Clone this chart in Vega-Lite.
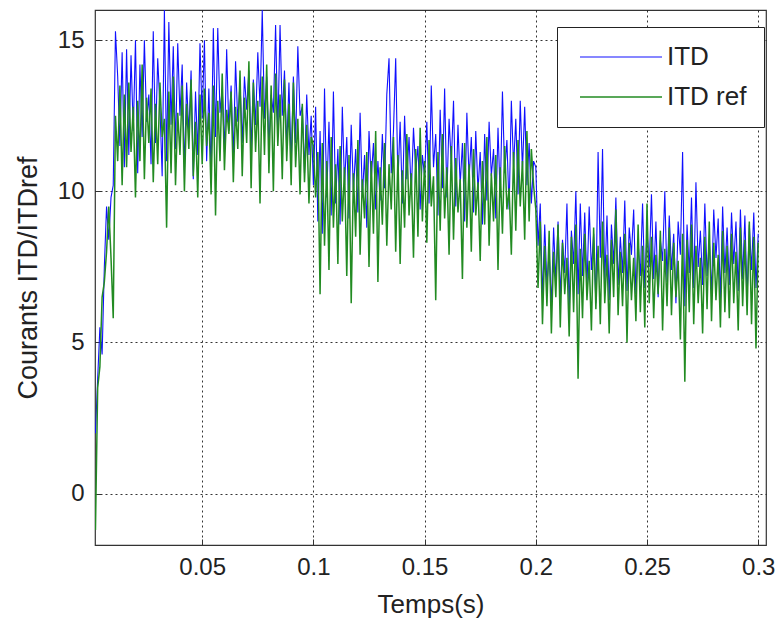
{
"$schema":"https://vega.github.io/schema/vega-lite/v6.json",
"autosize":"none",
"width":671,"height":535,
"padding":{"left":95,"top":10,"right":12,"bottom":85},
"background":"white",
"config":{"font":"Liberation Sans","view":{"stroke":"#333","strokeWidth":1.2},
"axis":{"grid":true,"gridColor":"#111","gridDash":[2,3],"gridOpacity":0.85,"domain":false,"tickColor":"#333","tickSize":-6,"labelFontSize":24,"labelColor":"#222","titleFontSize":26,"titleFontWeight":"normal","titleColor":"#222"}},
"data":{"values":[
{"t":0.002,"ITD":2.0,"ITD ref":-1.2},{"t":0.003,"ITD":3.8,"ITD ref":3.5},{"t":0.004,"ITD":5.5,"ITD ref":4.2},{"t":0.005,"ITD":4.6,"ITD ref":6.5},{"t":0.006,"ITD":7.5,"ITD ref":7.0},{"t":0.007,"ITD":9.5,"ITD ref":8.0},{"t":0.008,"ITD":8.4,"ITD ref":9.5},{"t":0.009,"ITD":9.8,"ITD ref":7.8},{"t":0.010,"ITD":10.2,"ITD ref":5.8},
{"t":0.011,"ITD":15.3,"ITD ref":12.5},{"t":0.012,"ITD":13.8,"ITD ref":11.0},{"t":0.013,"ITD":11.5,"ITD ref":13.5},{"t":0.014,"ITD":14.6,"ITD ref":10.2},{"t":0.015,"ITD":10.8,"ITD ref":13.2},{"t":0.016,"ITD":14.7,"ITD ref":10.8},{"t":0.017,"ITD":11.2,"ITD ref":13.6},{"t":0.018,"ITD":14.5,"ITD ref":11.3},{"t":0.019,"ITD":12.0,"ITD ref":12.8},{"t":0.020,"ITD":15.0,"ITD ref":9.8},
{"t":0.021,"ITD":10.6,"ITD ref":13.0},{"t":0.022,"ITD":14.2,"ITD ref":11.0},{"t":0.023,"ITD":11.8,"ITD ref":14.2},{"t":0.024,"ITD":15.0,"ITD ref":10.4},{"t":0.025,"ITD":12.3,"ITD ref":13.1},{"t":0.026,"ITD":13.2,"ITD ref":11.6},{"t":0.027,"ITD":10.9,"ITD ref":13.4},{"t":0.028,"ITD":15.3,"ITD ref":10.3},{"t":0.029,"ITD":11.6,"ITD ref":12.9},{"t":0.030,"ITD":14.4,"ITD ref":10.9},
{"t":0.031,"ITD":12.8,"ITD ref":13.6},{"t":0.032,"ITD":10.5,"ITD ref":11.8},{"t":0.033,"ITD":16.0,"ITD ref":12.4},{"t":0.034,"ITD":11.0,"ITD ref":8.8},{"t":0.035,"ITD":15.6,"ITD ref":13.3},{"t":0.036,"ITD":12.2,"ITD ref":10.6},{"t":0.037,"ITD":14.8,"ITD ref":13.8},{"t":0.038,"ITD":11.4,"ITD ref":10.2},{"t":0.039,"ITD":14.9,"ITD ref":12.6},{"t":0.040,"ITD":12.5,"ITD ref":11.2},
{"t":0.041,"ITD":14.2,"ITD ref":13.5},{"t":0.042,"ITD":10.7,"ITD ref":10.0},{"t":0.043,"ITD":13.6,"ITD ref":12.9},{"t":0.044,"ITD":11.9,"ITD ref":11.4},{"t":0.045,"ITD":14.0,"ITD ref":13.7},{"t":0.046,"ITD":10.4,"ITD ref":10.5},{"t":0.047,"ITD":13.3,"ITD ref":12.3},{"t":0.048,"ITD":11.2,"ITD ref":9.8},{"t":0.049,"ITD":14.9,"ITD ref":13.2},{"t":0.050,"ITD":12.4,"ITD ref":10.9},
{"t":0.051,"ITD":15.0,"ITD ref":13.4},{"t":0.052,"ITD":11.0,"ITD ref":11.5},{"t":0.053,"ITD":13.4,"ITD ref":12.6},{"t":0.054,"ITD":10.6,"ITD ref":9.9},{"t":0.055,"ITD":15.4,"ITD ref":13.5},{"t":0.056,"ITD":11.8,"ITD ref":9.2},{"t":0.057,"ITD":15.4,"ITD ref":13.0},{"t":0.058,"ITD":12.6,"ITD ref":11.0},{"t":0.059,"ITD":13.4,"ITD ref":13.9},{"t":0.060,"ITD":11.3,"ITD ref":10.7},
{"t":0.061,"ITD":14.7,"ITD ref":12.7},{"t":0.062,"ITD":12.0,"ITD ref":11.9},{"t":0.063,"ITD":13.5,"ITD ref":13.3},{"t":0.064,"ITD":11.1,"ITD ref":10.3},{"t":0.065,"ITD":14.3,"ITD ref":12.8},{"t":0.066,"ITD":12.3,"ITD ref":11.4},{"t":0.067,"ITD":13.6,"ITD ref":14.0},{"t":0.068,"ITD":11.6,"ITD ref":10.5},{"t":0.069,"ITD":13.8,"ITD ref":13.1},{"t":0.070,"ITD":12.7,"ITD ref":11.6},
{"t":0.071,"ITD":14.0,"ITD ref":14.3},{"t":0.072,"ITD":11.4,"ITD ref":10.1},{"t":0.073,"ITD":13.7,"ITD ref":13.6},{"t":0.074,"ITD":12.2,"ITD ref":11.3},{"t":0.075,"ITD":14.6,"ITD ref":13.0},{"t":0.076,"ITD":12.8,"ITD ref":9.6},{"t":0.077,"ITD":16.0,"ITD ref":13.8},{"t":0.078,"ITD":12.4,"ITD ref":11.2},{"t":0.079,"ITD":13.8,"ITD ref":14.2},{"t":0.080,"ITD":11.5,"ITD ref":10.6},
{"t":0.081,"ITD":13.2,"ITD ref":13.5},{"t":0.082,"ITD":12.6,"ITD ref":10.0},{"t":0.083,"ITD":15.5,"ITD ref":13.9},{"t":0.084,"ITD":11.9,"ITD ref":11.5},{"t":0.085,"ITD":15.5,"ITD ref":13.2},{"t":0.086,"ITD":12.5,"ITD ref":10.4},{"t":0.087,"ITD":14.0,"ITD ref":13.7},{"t":0.088,"ITD":11.4,"ITD ref":11.0},{"t":0.089,"ITD":13.6,"ITD ref":12.9},{"t":0.090,"ITD":10.9,"ITD ref":10.2},
{"t":0.091,"ITD":13.8,"ITD ref":13.6},{"t":0.092,"ITD":11.6,"ITD ref":10.8},{"t":0.093,"ITD":14.8,"ITD ref":12.4},{"t":0.094,"ITD":12.5,"ITD ref":9.9},{"t":0.095,"ITD":12.8,"ITD ref":12.9},{"t":0.096,"ITD":10.6,"ITD ref":10.3},{"t":0.097,"ITD":13.2,"ITD ref":12.2},{"t":0.098,"ITD":11.2,"ITD ref":9.6},{"t":0.099,"ITD":12.5,"ITD ref":11.8},
{"t":0.100,"ITD":10.2,"ITD ref":11.5},{"t":0.101,"ITD":12.8,"ITD ref":9.8},{"t":0.102,"ITD":9.0,"ITD ref":11.3},{"t":0.103,"ITD":12.0,"ITD ref":6.6},{"t":0.104,"ITD":8.6,"ITD ref":11.6},{"t":0.105,"ITD":13.4,"ITD ref":8.2},{"t":0.106,"ITD":9.8,"ITD ref":11.0},{"t":0.107,"ITD":12.3,"ITD ref":7.4},{"t":0.108,"ITD":9.2,"ITD ref":11.8},{"t":0.109,"ITD":13.3,"ITD ref":8.8},
{"t":0.110,"ITD":9.6,"ITD ref":10.9},{"t":0.111,"ITD":11.4,"ITD ref":7.6},{"t":0.112,"ITD":8.9,"ITD ref":11.5},{"t":0.113,"ITD":12.8,"ITD ref":9.0},{"t":0.114,"ITD":10.2,"ITD ref":10.8},{"t":0.115,"ITD":11.8,"ITD ref":7.2},{"t":0.116,"ITD":9.1,"ITD ref":11.2},{"t":0.117,"ITD":12.2,"ITD ref":6.3},{"t":0.118,"ITD":10.0,"ITD ref":10.6},{"t":0.119,"ITD":11.4,"ITD ref":8.5},
{"t":0.120,"ITD":9.3,"ITD ref":11.7},{"t":0.121,"ITD":12.6,"ITD ref":7.9},{"t":0.122,"ITD":9.8,"ITD ref":10.4},{"t":0.123,"ITD":11.2,"ITD ref":9.1},{"t":0.124,"ITD":8.8,"ITD ref":11.3},{"t":0.125,"ITD":12.0,"ITD ref":7.5},{"t":0.126,"ITD":10.4,"ITD ref":11.0},{"t":0.127,"ITD":11.6,"ITD ref":8.6},{"t":0.128,"ITD":9.4,"ITD ref":12.0},{"t":0.129,"ITD":11.0,"ITD ref":7.0},
{"t":0.130,"ITD":9.7,"ITD ref":10.8},{"t":0.131,"ITD":11.9,"ITD ref":8.9},{"t":0.132,"ITD":10.1,"ITD ref":11.6},{"t":0.133,"ITD":13.2,"ITD ref":8.2},{"t":0.134,"ITD":14.4,"ITD ref":10.9},{"t":0.135,"ITD":10.6,"ITD ref":9.4},{"t":0.136,"ITD":12.0,"ITD ref":11.8},{"t":0.137,"ITD":14.4,"ITD ref":8.0},{"t":0.138,"ITD":10.3,"ITD ref":11.2},{"t":0.139,"ITD":12.3,"ITD ref":7.6},
{"t":0.140,"ITD":9.6,"ITD ref":10.7},{"t":0.141,"ITD":12.5,"ITD ref":8.8},{"t":0.142,"ITD":10.4,"ITD ref":11.9},{"t":0.143,"ITD":11.8,"ITD ref":9.2},{"t":0.144,"ITD":9.9,"ITD ref":10.6},{"t":0.145,"ITD":12.1,"ITD ref":7.8},{"t":0.146,"ITD":10.7,"ITD ref":11.4},{"t":0.147,"ITD":11.5,"ITD ref":8.5},{"t":0.148,"ITD":9.4,"ITD ref":12.1},{"t":0.149,"ITD":11.2,"ITD ref":9.0},
{"t":0.150,"ITD":10.5,"ITD ref":11.0},{"t":0.151,"ITD":12.3,"ITD ref":8.3},{"t":0.152,"ITD":9.6,"ITD ref":11.7},{"t":0.153,"ITD":13.5,"ITD ref":9.5},{"t":0.154,"ITD":10.8,"ITD ref":10.5},{"t":0.155,"ITD":11.9,"ITD ref":6.4},{"t":0.156,"ITD":9.2,"ITD ref":11.3},{"t":0.157,"ITD":12.7,"ITD ref":8.7},{"t":0.158,"ITD":10.1,"ITD ref":11.9},{"t":0.159,"ITD":13.4,"ITD ref":9.1},
{"t":0.160,"ITD":9.8,"ITD ref":10.8},{"t":0.161,"ITD":12.4,"ITD ref":7.9},{"t":0.162,"ITD":10.9,"ITD ref":11.5},{"t":0.163,"ITD":13.0,"ITD ref":8.4},{"t":0.164,"ITD":9.5,"ITD ref":11.1},{"t":0.165,"ITD":12.2,"ITD ref":9.3},{"t":0.166,"ITD":10.2,"ITD ref":10.4},{"t":0.167,"ITD":11.6,"ITD ref":7.1},{"t":0.168,"ITD":9.0,"ITD ref":11.6},{"t":0.169,"ITD":12.6,"ITD ref":8.8},
{"t":0.170,"ITD":10.4,"ITD ref":10.9},{"t":0.171,"ITD":11.8,"ITD ref":8.0},{"t":0.172,"ITD":9.3,"ITD ref":11.4},{"t":0.173,"ITD":12.0,"ITD ref":9.2},{"t":0.174,"ITD":10.0,"ITD ref":10.3},{"t":0.175,"ITD":11.3,"ITD ref":7.7},{"t":0.176,"ITD":8.9,"ITD ref":11.0},{"t":0.177,"ITD":11.9,"ITD ref":8.9},{"t":0.178,"ITD":9.7,"ITD ref":11.8},{"t":0.179,"ITD":12.3,"ITD ref":8.2},
{"t":0.180,"ITD":10.5,"ITD ref":10.6},{"t":0.181,"ITD":11.4,"ITD ref":9.0},{"t":0.182,"ITD":9.1,"ITD ref":11.2},{"t":0.183,"ITD":12.1,"ITD ref":7.4},{"t":0.184,"ITD":9.8,"ITD ref":10.8},{"t":0.185,"ITD":13.3,"ITD ref":8.6},{"t":0.186,"ITD":10.6,"ITD ref":11.5},{"t":0.187,"ITD":11.7,"ITD ref":9.4},{"t":0.188,"ITD":9.4,"ITD ref":10.1},{"t":0.189,"ITD":13.0,"ITD ref":7.9},
{"t":0.190,"ITD":10.8,"ITD ref":11.3},{"t":0.191,"ITD":12.4,"ITD ref":8.7},{"t":0.192,"ITD":9.9,"ITD ref":11.7},{"t":0.193,"ITD":13.0,"ITD ref":9.5},{"t":0.194,"ITD":10.7,"ITD ref":11.0},{"t":0.195,"ITD":12.8,"ITD ref":8.4},{"t":0.196,"ITD":10.2,"ITD ref":12.0},{"t":0.197,"ITD":11.6,"ITD ref":9.0},{"t":0.198,"ITD":9.6,"ITD ref":11.4},{"t":0.199,"ITD":11.0,"ITD ref":10.2},
{"t":0.200,"ITD":10.8,"ITD ref":9.4},{"t":0.201,"ITD":8.2,"ITD ref":6.8},{"t":0.202,"ITD":9.6,"ITD ref":9.0},{"t":0.203,"ITD":6.4,"ITD ref":5.6},{"t":0.204,"ITD":8.9,"ITD ref":8.2},{"t":0.205,"ITD":6.9,"ITD ref":6.2},{"t":0.206,"ITD":8.0,"ITD ref":8.7},{"t":0.207,"ITD":6.2,"ITD ref":5.3},{"t":0.208,"ITD":8.8,"ITD ref":8.0},{"t":0.209,"ITD":7.0,"ITD ref":6.5},
{"t":0.210,"ITD":9.0,"ITD ref":8.9},{"t":0.211,"ITD":6.5,"ITD ref":5.5},{"t":0.212,"ITD":8.4,"ITD ref":8.3},{"t":0.213,"ITD":7.3,"ITD ref":6.6},{"t":0.214,"ITD":9.6,"ITD ref":7.8},{"t":0.215,"ITD":6.1,"ITD ref":5.2},{"t":0.216,"ITD":8.7,"ITD ref":8.5},{"t":0.217,"ITD":7.6,"ITD ref":6.0},{"t":0.218,"ITD":10.0,"ITD ref":8.9},{"t":0.219,"ITD":6.6,"ITD ref":3.8},
{"t":0.220,"ITD":9.6,"ITD ref":8.1},{"t":0.221,"ITD":7.2,"ITD ref":5.8},{"t":0.222,"ITD":9.3,"ITD ref":8.6},{"t":0.223,"ITD":6.8,"ITD ref":6.4},{"t":0.224,"ITD":9.5,"ITD ref":7.7},{"t":0.225,"ITD":7.4,"ITD ref":5.4},{"t":0.226,"ITD":8.6,"ITD ref":8.8},{"t":0.227,"ITD":6.3,"ITD ref":6.1},{"t":0.228,"ITD":11.3,"ITD ref":8.2},{"t":0.229,"ITD":7.8,"ITD ref":5.6},
{"t":0.230,"ITD":11.4,"ITD ref":9.0},{"t":0.231,"ITD":7.0,"ITD ref":6.3},{"t":0.232,"ITD":9.2,"ITD ref":7.9},{"t":0.233,"ITD":6.4,"ITD ref":5.3},{"t":0.234,"ITD":8.9,"ITD ref":8.4},{"t":0.235,"ITD":7.6,"ITD ref":6.5},{"t":0.236,"ITD":9.8,"ITD ref":9.4},{"t":0.237,"ITD":6.9,"ITD ref":5.9},{"t":0.238,"ITD":8.5,"ITD ref":8.0},{"t":0.239,"ITD":7.3,"ITD ref":6.2},
{"t":0.240,"ITD":9.7,"ITD ref":8.6},{"t":0.241,"ITD":6.7,"ITD ref":5.0},{"t":0.242,"ITD":8.8,"ITD ref":8.3},{"t":0.243,"ITD":7.9,"ITD ref":6.4},{"t":0.244,"ITD":9.4,"ITD ref":7.8},{"t":0.245,"ITD":6.6,"ITD ref":5.7},{"t":0.246,"ITD":8.3,"ITD ref":8.9},{"t":0.247,"ITD":7.2,"ITD ref":6.0},{"t":0.248,"ITD":9.6,"ITD ref":8.2},{"t":0.249,"ITD":6.8,"ITD ref":5.5},
{"t":0.250,"ITD":8.7,"ITD ref":9.6},{"t":0.251,"ITD":7.5,"ITD ref":6.3},{"t":0.252,"ITD":9.9,"ITD ref":8.5},{"t":0.253,"ITD":7.1,"ITD ref":5.8},{"t":0.254,"ITD":9.0,"ITD ref":7.9},{"t":0.255,"ITD":6.5,"ITD ref":6.6},{"t":0.256,"ITD":8.4,"ITD ref":8.7},{"t":0.257,"ITD":7.7,"ITD ref":5.4},{"t":0.258,"ITD":10.0,"ITD ref":8.1},{"t":0.259,"ITD":7.0,"ITD ref":6.2},
{"t":0.260,"ITD":9.2,"ITD ref":8.8},{"t":0.261,"ITD":7.4,"ITD ref":5.9},{"t":0.262,"ITD":8.6,"ITD ref":8.3},{"t":0.263,"ITD":6.3,"ITD ref":6.5},{"t":0.264,"ITD":9.0,"ITD ref":7.7},{"t":0.265,"ITD":7.9,"ITD ref":5.1},{"t":0.266,"ITD":11.3,"ITD ref":8.6},{"t":0.267,"ITD":6.2,"ITD ref":3.7},{"t":0.268,"ITD":8.9,"ITD ref":8.4},{"t":0.269,"ITD":7.3,"ITD ref":6.0},
{"t":0.270,"ITD":9.8,"ITD ref":8.9},{"t":0.271,"ITD":6.8,"ITD ref":5.6},{"t":0.272,"ITD":10.3,"ITD ref":8.2},{"t":0.273,"ITD":7.5,"ITD ref":6.3},{"t":0.274,"ITD":8.7,"ITD ref":7.8},{"t":0.275,"ITD":6.9,"ITD ref":5.3},{"t":0.276,"ITD":9.6,"ITD ref":8.5},{"t":0.277,"ITD":7.2,"ITD ref":6.1},{"t":0.278,"ITD":8.4,"ITD ref":9.0},{"t":0.279,"ITD":6.6,"ITD ref":5.7},
{"t":0.280,"ITD":9.4,"ITD ref":8.3},{"t":0.281,"ITD":7.8,"ITD ref":6.4},{"t":0.282,"ITD":9.1,"ITD ref":7.9},{"t":0.283,"ITD":6.4,"ITD ref":5.5},{"t":0.284,"ITD":9.5,"ITD ref":8.7},{"t":0.285,"ITD":7.3,"ITD ref":6.0},{"t":0.286,"ITD":8.8,"ITD ref":8.2},{"t":0.287,"ITD":6.9,"ITD ref":5.8},{"t":0.288,"ITD":9.3,"ITD ref":8.6},{"t":0.289,"ITD":7.6,"ITD ref":6.3},
{"t":0.290,"ITD":9.0,"ITD ref":8.0},{"t":0.291,"ITD":6.7,"ITD ref":5.4},{"t":0.292,"ITD":9.4,"ITD ref":8.8},{"t":0.293,"ITD":7.1,"ITD ref":6.2},{"t":0.294,"ITD":9.2,"ITD ref":8.4},{"t":0.295,"ITD":6.5,"ITD ref":5.9},{"t":0.296,"ITD":8.9,"ITD ref":9.0},{"t":0.297,"ITD":7.4,"ITD ref":5.6},{"t":0.298,"ITD":9.3,"ITD ref":8.5},{"t":0.299,"ITD":6.8,"ITD ref":4.8},
{"t":0.300,"ITD":8.6,"ITD ref":8.3}
]},
"transform":[{"fold":["ITD","ITD ref"],"as":["serie","val"]}],
"mark":{"type":"line","clip":true,"interpolate":"linear"},
"encoding":{
"x":{"field":"t","type":"quantitative","scale":{"domain":[0.0018,0.3035],"nice":false,"zero":false},"axis":{"values":[0.05,0.1,0.15,0.2,0.25,0.3],"title":"Temps(s)","labelPadding":16,"titlePadding":12,"labelExpr":"datum.value==0.1?'0.1':datum.value==0.2?'0.2':datum.value==0.3?'0.3':datum.label"}},
"y":{"field":"val","type":"quantitative","scale":{"domain":[-1.7,16],"nice":false,"zero":false},"axis":{"values":[0,5,10,15],"title":"Courants ITD/ITDref","titleFontSize":27,"labelPadding":17,"titlePadding":15}},
"strokeWidth":{"field":"serie","type":"nominal","scale":{"domain":["ITD","ITD ref"],"range":[1.1,1.5]},"legend":null},
"color":{"field":"serie","type":"nominal","scale":{"domain":["ITD","ITD ref"],"range":["#1010ff","#228b22"]},
"legend":{"title":null,"orient":"none","legendX":462,"legendY":17,"fillColor":"white","strokeColor":"#222","padding":17,"symbolType":"M-0.875,0H9.375","symbolSize":256,"symbolStrokeWidth":2,"labelFontSize":26,"labelColor":"#222","labelOffset":67,"rowPadding":14}}
}
}
